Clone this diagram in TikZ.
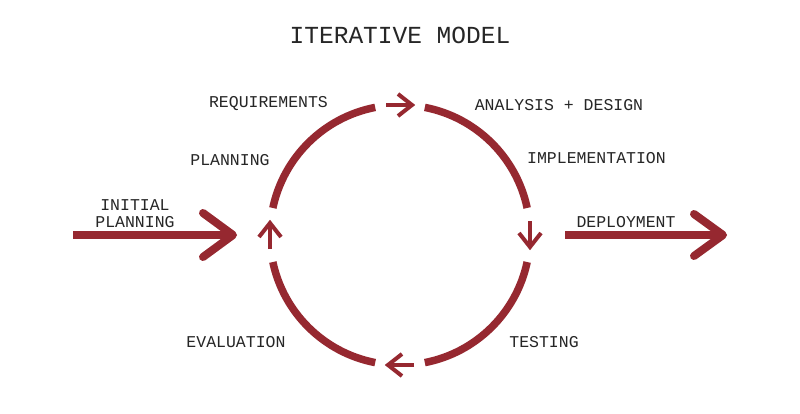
\documentclass[tikz,border=0pt]{standalone}
\usepackage{fontspec}
\setmainfont{Liberation Mono}
\definecolor{ired}{HTML}{962830}
\begin{document}
\begin{tikzpicture}[x=1pt,y=1pt,
  arcline/.style={draw=ired,line width=7.5pt,line cap=butt},
  smallarrow/.style={draw=ired,line width=4pt,line cap=butt,line join=miter},
  bigshaft/.style={draw=ired,line width=8pt,line cap=butt},
  bighead/.style={draw=ired,line width=8pt,line cap=round,line join=round},
  lbl/.style={inner sep=0pt,font=\fontsize{16.5}{20}\selectfont,text=black!85},
  ttl/.style={inner sep=0pt,font=\fontsize{24.5}{28}\selectfont,text=black!85}]
\useasboundingbox[fill=white] (0,0) rectangle (800,413);
\coordinate (C) at (400,178);
% circle arcs
\draw[arcline] ([shift={(12:130)}]C) arc[start angle=12,end angle=79,radius=130];
\draw[arcline] ([shift={(101:130)}]C) arc[start angle=101,end angle=168,radius=130];
\draw[arcline] ([shift={(192:130)}]C) arc[start angle=192,end angle=259,radius=130];
\draw[arcline] ([shift={(281:130)}]C) arc[start angle=281,end angle=348,radius=130];
% small arrows in gaps
\coordinate (t1) at (386,308); \coordinate (t2) at (412,308);
\draw[smallarrow] (t1) -- (t2);
\draw[smallarrow] ([shift={(-14,11)}]t2) -- (t2) -- ([shift={(-14,-11)}]t2);
\coordinate (r1) at (530,192); \coordinate (r2) at (530,166);
\draw[smallarrow] (r1) -- (r2);
\draw[smallarrow] ([shift={(-11,14)}]r2) -- (r2) -- ([shift={(11,14)}]r2);
\coordinate (b1) at (414,48); \coordinate (b2) at (388,48);
\draw[smallarrow] (b1) -- (b2);
\draw[smallarrow] ([shift={(14,11)}]b2) -- (b2) -- ([shift={(14,-11)}]b2);
\coordinate (l1) at (270,164); \coordinate (l2) at (270,190);
\draw[smallarrow] (l1) -- (l2);
\draw[smallarrow] ([shift={(-11,-14)}]l2) -- (l2) -- ([shift={(11,-14)}]l2);
% big arrows
\coordinate (ia) at (73,178); \coordinate (ib) at (233,178);
\draw[bigshaft] (ia) -- ([xshift=-2pt]ib);
\draw[bighead] ([shift={(-30,22)}]ib) -- (ib) -- ([shift={(-30,-22)}]ib);
\coordinate (da) at (565,178); \coordinate (db) at (723,178);
\draw[bigshaft] (da) -- ([xshift=-2pt]db);
\draw[bighead] ([shift={(-29,21)}]db) -- (db) -- ([shift={(-29,-21)}]db);
% labels
\node[ttl] (title) at (400,378) {ITERATIVE MODEL};
\node[lbl] (req) at (268.5,309) {REQUIREMENTS};
\node[lbl] (ana) at (559,308) {ANALYSIS + DESIGN};
\node[lbl] (pla) at (230,253) {PLANNING};
\node[lbl] (imp) at (596.5,255) {IMPLEMENTATION};
\node[lbl] (ini1) at (135,208) {INITIAL};
\node[lbl] (ini2) at (135,191) {PLANNING};
\node[lbl] (dep) at (626,191) {DEPLOYMENT};
\node[lbl] (eva) at (236,71) {EVALUATION};
\node[lbl] (tes) at (544,71) {TESTING};
\end{tikzpicture}
\end{document}
